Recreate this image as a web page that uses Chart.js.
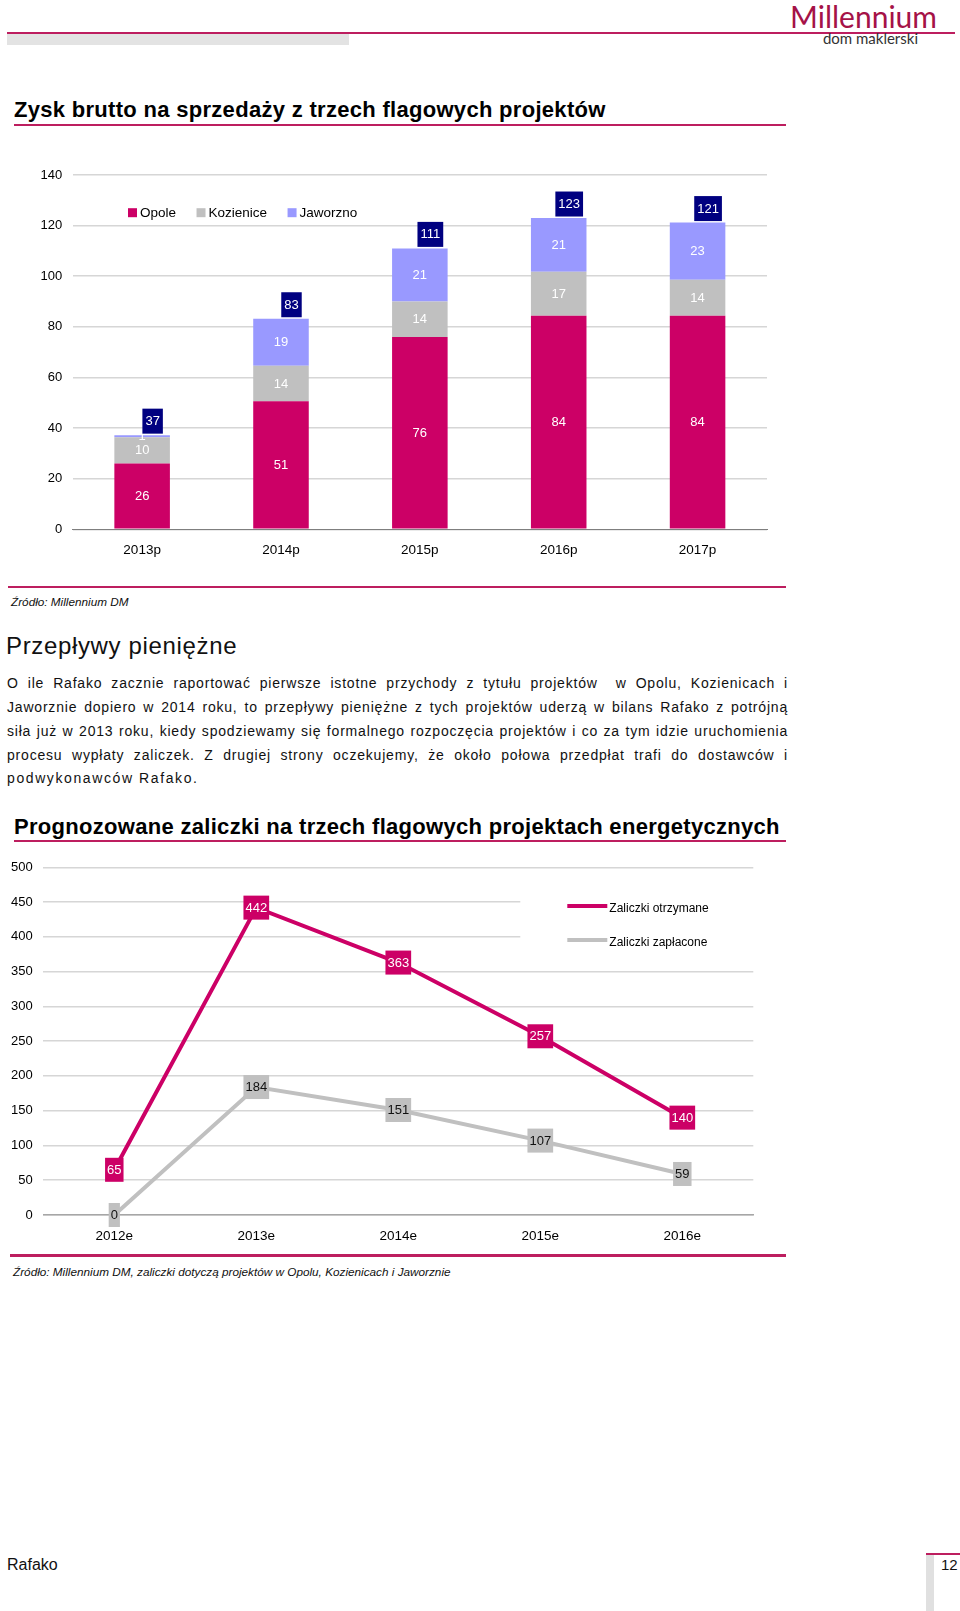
<!DOCTYPE html>
<html lang="pl">
<head>
<meta charset="utf-8">
<title>Rafako</title>
<script src="https://cdn.jsdelivr.net/npm/chart.js@4.4.1/dist/chart.umd.min.js"></script>
<style>
html,body{margin:0;padding:0;background:#fff;}
body{width:960px;height:1611px;position:relative;overflow:hidden;font-family:"Liberation Sans",Arial,sans-serif;color:#000;}
.abs{position:absolute;white-space:nowrap;}
.rule{position:absolute;background:#bd1e5f;}
.h{font-weight:bold;font-size:22px;line-height:26px;letter-spacing:0.3px;color:#000;}
.src{font-style:italic;font-size:11.75px;line-height:16px;color:#111;}
.pl{position:absolute;left:7px;width:781px;font-size:14px;line-height:24px;letter-spacing:0.8px;white-space:nowrap;color:#111;}
canvas{position:absolute;}
</style>
</head>
<body>
<div class="rule" style="left:7px;top:31.5px;width:948px;height:2.5px;"></div>
<div class="abs" style="left:7px;top:34px;width:342px;height:11px;background:#e3e3e3;"></div>
<div class="abs" style="right:23px;top:1px;font-family:Lato,'Liberation Sans',sans-serif;font-size:30px;line-height:30px;color:#a51247;">Millennium</div>
<div class="abs" style="right:42px;top:31px;font-family:Lato,'Liberation Sans',sans-serif;font-size:15px;line-height:15px;color:#333;">dom maklerski</div>

<div class="abs h" style="left:14px;top:97px;">Zysk brutto na sprzedaży z trzech flagowych projektów</div>
<div class="rule" style="left:14px;top:123.5px;width:772px;height:2.5px;"></div>

<canvas id="c1" width="780" height="400" style="left:0;top:165px;width:780px;height:400px;"></canvas>

<div class="rule" style="left:8px;top:585.5px;width:778px;height:2.5px;"></div>
<div class="abs src" style="left:11px;top:594px;">Źródło: Millennium DM</div>

<div class="abs" style="left:6px;top:631px;font-size:24px;line-height:30px;letter-spacing:0.65px;color:#111;">Przepływy pieniężne</div>

<div class="pl j" style="top:671.3px;"><span>O ile Rafako zacznie raportować pierwsze istotne przychody z tytułu projektów&nbsp; w Opolu, Kozienicach i</span></div>
<div class="pl j" style="top:695px;"><span>Jaworznie dopiero w 2014 roku, to przepływy pieniężne z tych projektów uderzą w bilans Rafako z potrójną</span></div>
<div class="pl j" style="top:719px;"><span>siła już w 2013 roku, kiedy spodziewamy się formalnego rozpoczęcia projektów i co za tym idzie uruchomienia</span></div>
<div class="pl j" style="top:742.5px;"><span>procesu wypłaty zaliczek. Z drugiej strony oczekujemy, że około połowa przedpłat trafi do dostawców i</span></div>
<div class="pl" style="top:766.3px;letter-spacing:1.6px;"><span>podwykonawców Rafako.</span></div>

<div class="abs h" style="left:14px;top:813.7px;">Prognozowane zaliczki na trzech flagowych projektach energetycznych</div>
<div class="rule" style="left:14px;top:839.5px;width:772px;height:2.5px;"></div>

<canvas id="c2" width="780" height="400" style="left:0;top:855px;width:780px;height:400px;"></canvas>

<div class="rule" style="left:10px;top:1254px;width:776px;height:2.5px;"></div>
<div class="abs src" style="left:13px;top:1264px;">Źródło: Millennium DM, zaliczki dotyczą projektów w Opolu, Kozienicach i Jaworznie</div>

<div class="abs" style="left:7px;top:1555px;font-size:16px;line-height:20px;color:#111;">Rafako</div>
<div class="rule" style="left:926px;top:1552.5px;width:34px;height:2.5px;"></div>
<div class="abs" style="left:926px;top:1555px;width:8px;height:56px;background:#e0e0e0;"></div>
<div class="abs" style="left:941px;top:1555px;font-size:15px;line-height:20px;color:#111;">12</div>

<script>
// ---------- data ----------
const categories1 = ['2013p', '2014p', '2015p', '2016p', '2017p'];
const seriesNames1 = ['Opole', 'Kozienice', 'Jaworzno'];
const opoleValues = [26, 50.6, 76, 84.4, 84.4];
const kozieniceValues = [10.4, 14, 14, 17.4, 14.2];
const jaworznoValues = [0.8, 18.6, 21, 21.2, 22.6];
const yTicks1 = [0, 20, 40, 60, 80, 100, 120, 140];

const categories2 = ['2012e', '2013e', '2014e', '2015e', '2016e'];
const seriesNames2 = ['Zaliczki otrzymane', 'Zaliczki zapłacone'];
const receivedValues = [65, 442, 363, 257, 140];
const paidValues = [0, 184, 151, 107, 59];
const yTicks2 = [0, 50, 100, 150, 200, 250, 300, 350, 400, 450, 500];

// ---------- styles ----------
const FONT = '"Liberation Sans", Arial, sans-serif';
const PINK = '#cc0066', GREY = '#c0c0c0', LILAC = '#9999ff', NAVY = '#000080';
const GRID = '#d6d6d6';

// justify paragraph lines
document.querySelectorAll('.pl.j span').forEach(sp => {
  const n = (sp.textContent.match(/[ \u00a0]/g) || []).length;
  const w = sp.getBoundingClientRect().width;
  sp.style.wordSpacing = ((781 - w) / n) + 'px';
});

function noPadY(s, width) { s.width = width; s.paddingTop = 0; s.paddingBottom = 0; }
function noPadX(s, height) { s.height = height; s.paddingLeft = 0; s.paddingRight = 0; }

// ---------- chart 1 plugins ----------
const barLabels = {
  id: 'barLabels',
  afterDatasetsDraw(chart) {
    const ctx = chart.ctx;
    ctx.save();
    ctx.font = '13px ' + FONT;
    ctx.textAlign = 'center';
    ctx.textBaseline = 'middle';
    chart.data.datasets.forEach((ds, di) => {
      const meta = chart.getDatasetMeta(di);
      meta.data.forEach((el, i) => {
        ctx.fillStyle = '#fff';
        ctx.fillText(String(Math.round(ds.data[i])), el.x, (el.y + el.base) / 2 + 0.5);
      });
    });
    const last = chart.getDatasetMeta(chart.data.datasets.length - 1);
    chart.data.labels.forEach((_, i) => {
      const total = chart.data.datasets.reduce((s, ds) => s + ds.data[i], 0);
      const txt = String(Math.round(total));
      const el = last.data[i];
      const w = ctx.measureText(txt).width + 6, h = 25;
      const cx = el.x + 10.5, cy = el.y - 14;
      ctx.fillStyle = NAVY;
      ctx.fillRect(cx - w / 2, cy - h / 2, w, h);
      ctx.fillStyle = '#fff';
      ctx.fillText(txt, cx, cy + 0.5);
    });
    ctx.restore();
  }
};
const legend1 = {
  id: 'legend1',
  afterDraw(chart) {
    const { ctx, chartArea: a } = chart;
    ctx.save();
    ctx.font = '13.5px ' + FONT;
    ctx.textBaseline = 'middle';
    ctx.textAlign = 'left';
    let x = a.left + 55.3;
    const y = a.top + 37.7;
    chart.data.datasets.forEach(ds => {
      ctx.fillStyle = ds.backgroundColor;
      ctx.fillRect(x, y - 4.5, 9, 9);
      ctx.fillStyle = '#000';
      ctx.fillText(ds.label, x + 12, y + 0.5);
      x += 12 + ctx.measureText(ds.label).width + 20.5;
    });
    ctx.restore();
  }
};

new Chart(document.getElementById('c1'), {
  type: 'bar',
  data: {
    labels: categories1,
    datasets: [
      { label: seriesNames1[0], data: opoleValues, backgroundColor: PINK },
      { label: seriesNames1[1], data: kozieniceValues, backgroundColor: GREY },
      { label: seriesNames1[2], data: jaworznoValues, backgroundColor: LILAC }
    ]
  },
  options: {
    responsive: false,
    animation: false,
    devicePixelRatio: 1,
    layout: { padding: { top: 10, right: 13, left: 0, bottom: 0 } },
    plugins: { legend: { display: false }, tooltip: { enabled: false } },
    datasets: { bar: { barPercentage: 0.5, categoryPercentage: 0.8 } },
    scales: {
      x: {
        stacked: true,
        grid: { display: false, drawTicks: false },
        border: { color: '#7f7f7f', width: 1 },
        ticks: { color: '#000', font: { size: 13.5, family: FONT }, padding: 13 },
        afterFit(s) { noPadX(s, 35.7); }
      },
      y: {
        stacked: true,
        min: yTicks1[0], max: yTicks1[yTicks1.length - 1],
        afterBuildTicks(s) { s.ticks = yTicks1.map(v => ({ value: v })); },
        grid: { color: GRID, lineWidth: 1.5, drawTicks: false },
        border: { display: false },
        ticks: { color: '#000', font: { size: 13, family: FONT }, padding: 10.5 },
        afterFit(s) { noPadY(s, 72.7); }
      }
    }
  },
  plugins: [barLabels, legend1]
});

// ---------- chart 2 plugins ----------
const labelStyles2 = [{ bg: PINK, fg: '#fff' }, { bg: GREY, fg: '#111' }];
const pointLabels = {
  id: 'pointLabels',
  afterDatasetsDraw(chart) {
    const ctx = chart.ctx;
    ctx.save();
    ctx.font = '13px ' + FONT;
    ctx.textAlign = 'center';
    ctx.textBaseline = 'middle';
    chart.data.datasets.forEach((ds, di) => {
      const meta = chart.getDatasetMeta(di);
      const st = labelStyles2[di];
      meta.data.forEach((el, i) => {
        const txt = String(ds.data[i]);
        const w = ctx.measureText(txt).width + 4, h = 24;
        ctx.fillStyle = st.bg;
        ctx.fillRect(el.x - w / 2, el.y - h / 2, w, h);
        ctx.fillStyle = st.fg;
        ctx.fillText(txt, el.x, el.y + 0.5);
      });
    });
    ctx.restore();
  }
};
const legend2 = {
  id: 'legend2',
  afterDraw(chart) {
    const { ctx, chartArea: a } = chart;
    ctx.save();
    ctx.fillStyle = '#fff';
    ctx.fillRect(a.left + 477, a.top + 12, chart.width - (a.left + 477), 88);
    ctx.font = '12px ' + FONT;
    ctx.textBaseline = 'middle';
    ctx.textAlign = 'left';
    const x = a.left + 524;
    chart.data.datasets.forEach((ds, di) => {
      const y = a.top + 38.7 + di * 34;
      ctx.strokeStyle = ds.borderColor;
      ctx.lineWidth = 4;
      ctx.beginPath();
      ctx.moveTo(x, y);
      ctx.lineTo(x + 40, y);
      ctx.stroke();
      ctx.fillStyle = '#000';
      ctx.fillText(ds.label, x + 42, y + 2.7);
    });
    ctx.restore();
  }
};

new Chart(document.getElementById('c2'), {
  type: 'line',
  data: {
    labels: categories2,
    datasets: [
      { label: seriesNames2[0], data: receivedValues, borderColor: PINK, backgroundColor: PINK, borderWidth: 4, pointRadius: 0, tension: 0, fill: false },
      { label: seriesNames2[1], data: paidValues, borderColor: GREY, backgroundColor: GREY, borderWidth: 4, pointRadius: 0, tension: 0, fill: false }
    ]
  },
  options: {
    responsive: false,
    animation: false,
    devicePixelRatio: 1,
    layout: { padding: { top: 12.3, right: 26.7, left: 0, bottom: 0 } },
    plugins: { legend: { display: false }, tooltip: { enabled: false } },
    scales: {
      x: {
        offset: true,
        grid: { display: false, drawTicks: false },
        border: { color: '#a6a6a6', width: 1.5 },
        ticks: { color: '#000', font: { size: 13.5, family: FONT }, padding: 13 },
        afterFit(s) { noPadX(s, 40); }
      },
      y: {
        min: yTicks2[0], max: yTicks2[yTicks2.length - 1],
        afterBuildTicks(s) { s.ticks = yTicks2.map(v => ({ value: v })); },
        grid: { color: GRID, lineWidth: 1.5, drawTicks: false },
        border: { display: false },
        ticks: { color: '#000', font: { size: 13, family: FONT }, padding: 10.6 },
        afterFit(s) { noPadY(s, 43.3); }
      }
    }
  },
  plugins: [pointLabels, legend2]
});
</script>
</body>
</html>
